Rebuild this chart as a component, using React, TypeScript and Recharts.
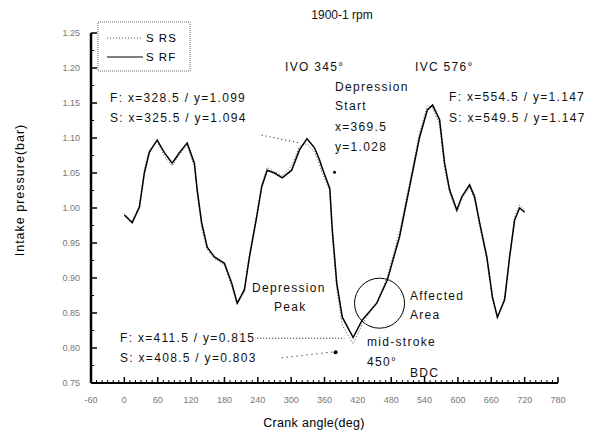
import React from 'react';
import { LineChart, Line, XAxis, YAxis, ReferenceLine, ReferenceDot } from 'recharts';

// crank angle (deg) and intake pressure (bar)
const angles = [
  0, 14, 27, 36, 45, 59, 72, 86, 99, 113, 126, 131, 139, 149, 162, 180, 193, 203, 216, 225,
  238, 247, 257, 270, 284, 301, 315, 328.5, 342, 351, 355, 369.5, 374, 382, 392, 411.5, 428, 454, 473, 495,
  513, 531, 545, 554.5, 567, 576, 585, 598, 607, 621, 630, 639, 652, 662, 671, 684, 693, 702, 711, 720,
];
const rfPressure = [
  0.99, 0.979, 1.001, 1.05, 1.08, 1.097, 1.079, 1.064, 1.079, 1.093, 1.064, 1.026, 0.979, 0.944, 0.93, 0.921, 0.893, 0.864, 0.883, 0.93,
  0.987, 1.03, 1.054, 1.05, 1.043, 1.054, 1.083, 1.099, 1.086, 1.069, 1.059, 1.028, 0.969, 0.893, 0.844, 0.815, 0.84, 0.864, 0.897, 0.959,
  1.03, 1.101, 1.14, 1.147, 1.126, 1.064, 1.026, 0.997, 1.016, 1.033, 1.016, 0.979, 0.93, 0.873, 0.844, 0.869, 0.93, 0.983, 1.0, 0.994,
];
const rsPressure = [
  0.992, 0.981, 1.004, 1.055, 1.083, 1.095, 1.074, 1.06, 1.076, 1.09, 1.058, 1.02, 0.972, 0.94, 0.928, 0.918, 0.888, 0.862, 0.886, 0.936,
  0.992, 1.034, 1.058, 1.052, 1.046, 1.06, 1.088, 1.092, 1.08, 1.062, 1.052, 1.024, 0.96, 0.884, 0.832, 0.806, 0.834, 0.866, 0.902, 0.966,
  1.036, 1.108, 1.146, 1.143, 1.118, 1.056, 1.022, 0.994, 1.014, 1.03, 1.012, 0.974, 0.925, 0.869, 0.842, 0.872, 0.934, 0.988, 1.004, 0.997,
];

const xMajorTicks = [-60, 0, 60, 120, 180, 240, 300, 360, 420, 480, 540, 600, 660, 720, 780];
const yMajorTicks = [0.75, 0.8, 0.85, 0.9, 0.95, 1.0, 1.05, 1.1, 1.15, 1.2, 1.25];
const yTickLabels = ['0.75', '0.80', '0.85', '0.90', '0.95', '1.00', '1.05', '1.10', '1.15', '1.20', '1.25'];

const data = angles.map((a, i) => ({ angle: a, rf: rfPressure[i], rs: rsPressure[i] }));

// minor ticks in between the labelled ones
const xTicks: number[] = [];
for (let i = 0; i < xMajorTicks.length - 1; i++) {
  for (let k = 0; k < 6; k++) xTicks.push(xMajorTicks[i] + k * 10);
}
xTicks.push(xMajorTicks[xMajorTicks.length - 1]);
const yTicks: number[] = [];
yMajorTicks.forEach((v, i) => {
  yTicks.push(v);
  if (i < yMajorTicks.length - 1) yTicks.push(+(v + 0.025).toFixed(3));
});

const FONT = '"Liberation Sans", Arial, sans-serif';

const XTick = (props: any) => {
  const { x, y, payload } = props;
  const major = xMajorTicks.includes(payload.value);
  return (
    <g>
      <line x1={x} y1={y} x2={x} y2={y - (major ? 6 : 3)} stroke="#000" strokeWidth={major ? 1.5 : 1} />
      {major && (
        <text x={x} y={y + 20} textAnchor="middle" fontSize={9} fill="#777" fontFamily={FONT}>
          {payload.value}
        </text>
      )}
    </g>
  );
};

const YTick = (props: any) => {
  const { x, y, payload } = props;
  const idx = yMajorTicks.findIndex((v) => Math.abs(v - payload.value) < 1e-6);
  const major = idx >= 0;
  return (
    <g>
      <line x1={x} y1={y} x2={x + (major ? 6 : 3)} y2={y} stroke="#000" strokeWidth={major ? 1.5 : 1} />
      {major && (
        <text x={x - 11} y={y + 3} textAnchor="end" fontSize={9} fill="#777" fontFamily={FONT}>
          {yTickLabels[idx]}
        </text>
      )}
    </g>
  );
};

const notes: { x: number; y: number; t: string; anchor?: string; ls?: number }[] = [
  { x: 342, y: 19, t: '1900-1 rpm', anchor: 'middle', ls: 0 },
  { x: 285, y: 71, t: 'IVO 345°' },
  { x: 415, y: 71, t: 'IVC 576°' },
  { x: 110, y: 102, t: 'F: x=328.5 / y=1.099' },
  { x: 110, y: 122, t: 'S: x=325.5 / y=1.094' },
  { x: 335, y: 91, t: 'Depression' },
  { x: 335, y: 110, t: 'Start' },
  { x: 335, y: 131, t: 'x=369.5' },
  { x: 335, y: 151, t: 'y=1.028' },
  { x: 449, y: 101, t: 'F: x=554.5 / y=1.147' },
  { x: 449, y: 122, t: 'S: x=549.5 / y=1.147' },
  { x: 252, y: 292, t: 'Depression' },
  { x: 274, y: 311, t: 'Peak' },
  { x: 410, y: 300, t: 'Affected' },
  { x: 410, y: 319, t: 'Area' },
  { x: 120, y: 342, t: 'F: x=411.5 / y=0.815' },
  { x: 120, y: 362, t: 'S: x=408.5 / y=0.803' },
  { x: 367, y: 346, t: 'mid-stroke' },
  { x: 367, y: 366, t: '450°' },
  { x: 410, y: 377, t: 'BDC' },
];

export default function App() {
  return (
    <div style={{ position: 'absolute', left: 0, top: 0, width: 597, height: 438, background: '#fff' }}>
      <LineChart width={597} height={438} data={data} margin={{ top: 33, right: 39, bottom: 15, left: 41 }}>
        <XAxis
          dataKey="angle"
          type="number"
          domain={[-60, 780]}
          ticks={xTicks}
          interval={0}
          tickSize={0}
          tickMargin={0}
          tickLine={false}
          tick={<XTick />}
          axisLine={{ stroke: '#000', strokeWidth: 2 }}
          height={40}
        />
        <YAxis
          type="number"
          domain={[0.75, 1.25]}
          ticks={yTicks}
          interval={0}
          tickSize={0}
          tickMargin={0}
          tickLine={false}
          tick={<YTick />}
          axisLine={{ stroke: '#000', strokeWidth: 2.5 }}
          width={50}
          allowDataOverflow
        />
        <Line
          dataKey="rs"
          type="linear"
          stroke="#555"
          strokeWidth={1}
          strokeDasharray="1 2"
          dot={false}
          isAnimationActive={false}
        />
        <Line dataKey="rf" type="linear" stroke="#000" strokeWidth={1.5} dot={false} isAnimationActive={false} />
        <ReferenceDot x={459} y={0.864} r={25} fill="none" stroke="#000" strokeWidth={1} />
        <ReferenceLine
          segment={[{ x: 247, y: 1.104 }, { x: 315, y: 1.093 }]}
          stroke="#000"
          strokeDasharray="1 3"
        />
        <ReferenceLine
          segment={[{ x: 239, y: 0.814 }, { x: 396, y: 0.814 }]}
          stroke="#000"
          strokeDasharray="1 2"
        />
        <ReferenceLine
          segment={[{ x: 283, y: 0.786 }, { x: 382, y: 0.795 }]}
          stroke="#000"
          strokeDasharray="1 4"
        />
        <ReferenceDot x={380} y={0.794} r={2} fill="#000" stroke="none" />
        <ReferenceDot x={378} y={1.051} r={1.5} fill="#000" stroke="none" />
      </LineChart>
      <svg width={597} height={438} style={{ position: 'absolute', left: 0, top: 0, pointerEvents: 'none' }}>
        <rect x={98} y={22} width={92} height={49} fill="none" stroke="#666" strokeDasharray="1 1" />
        <line x1={107} y1={38} x2={143} y2={38} stroke="#555" strokeDasharray="1 2" />
        <text x={146} y={42} fontSize={11.5} letterSpacing={1} fontFamily={FONT}>S RS</text>
        <line x1={107} y1={57} x2={143} y2={57} stroke="#000" strokeWidth={1.2} />
        <text x={146} y={61} fontSize={11.5} letterSpacing={1} fontFamily={FONT}>S RF</text>
        {notes.map((n, i) => (
          <text
            key={i}
            x={n.x}
            y={n.y}
            fontSize={12}
            letterSpacing={n.ls ?? 1.3}
            fontFamily={FONT}
            textAnchor={n.anchor || 'start'}
            fill="#111"
          >
            {n.t}
          </text>
        ))}
        <text
          x={24}
          y={190}
          fontSize={12.5}
          letterSpacing={1}
          fontFamily={FONT}
          textAnchor="middle"
          transform="rotate(-90 24 190)"
        >
          Intake pressure(bar)
        </text>
        <text x={314} y={427} fontSize={12.5} letterSpacing={0.3} fontFamily={FONT} textAnchor="middle">
          Crank angle(deg)
        </text>
      </svg>
    </div>
  );
}
